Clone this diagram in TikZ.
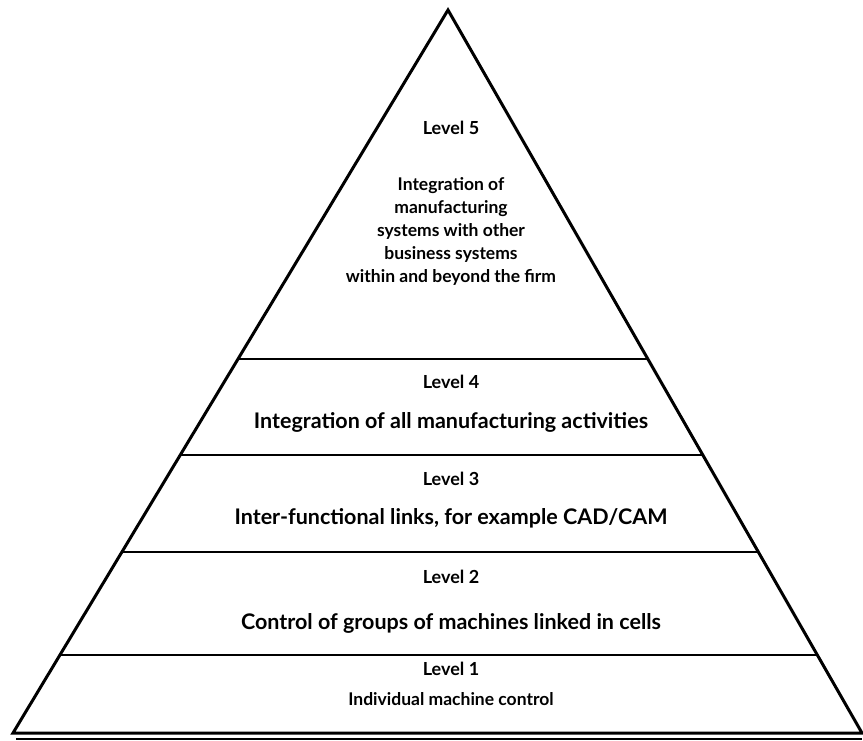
\documentclass[tikz,border=0pt]{standalone}
\usepackage{fontspec}
\setmainfont{Lato}
\begin{document}
\begin{tikzpicture}[x=1pt,y=-1pt,
  edge/.style={line width=3pt,line join=miter},
  sep/.style={line width=2.4pt},
  lvl/.style={font=\fontsize{18}{20}\selectfont\bfseries,inner sep=0pt},
  txt/.style={font=\fontsize{17.5}{23}\selectfont\bfseries,inner sep=0pt,align=center},
  bigtxt/.style={font=\fontsize{21.5}{23}\selectfont\bfseries,inner sep=0pt,align=center}]
\useasboundingbox (0,0) rectangle (863,741);
\coordinate (A) at (448,10);
\coordinate (BL) at (13,733);
\coordinate (BR) at (862,733);
\coordinate (L54) at (238,359); \coordinate (R54) at (648,359);
\coordinate (L43) at (180,455); \coordinate (R43) at (703,455);
\coordinate (L32) at (122,552); \coordinate (R32) at (758,552);
\coordinate (L21) at (60,655);  \coordinate (R21) at (817,655);
\coordinate (U1) at (16,739); \coordinate (U2) at (862,739);
\draw[edge] (BL) -- (A) -- (BR) -- cycle;
\draw[line width=1.6pt] (U1) -- (U2);
\draw[sep] (L54) -- (R54);
\draw[sep] (L43) -- (R43);
\draw[sep] (L32) -- (R32);
\draw[sep] (L21) -- (R21);
\node[lvl] (l5) at (451,128) {Level 5};
\node[txt] (t5) at (451,231) {Integration of\\manufacturing\\systems with other\\business systems\\within and beyond the firm};
\node[lvl] (l4) at (451,382) {Level 4};
\node[bigtxt] (t4) at (451,422) {Integration of all\ manufacturing activities};
\node[lvl] (l3) at (451,479) {Level 3};
\node[bigtxt] (t3) at (451,518) {Inter-functional links, for example CAD/CAM};
\node[lvl] (l2) at (451,577) {Level 2};
\node[bigtxt] (t2) at (451,623) {Control of groups of machines linked in cells};
\node[lvl] (l1) at (451,669) {Level 1};
\node[txt] (t1) at (451,699) {Individual machine control};
\end{tikzpicture}
\end{document}
